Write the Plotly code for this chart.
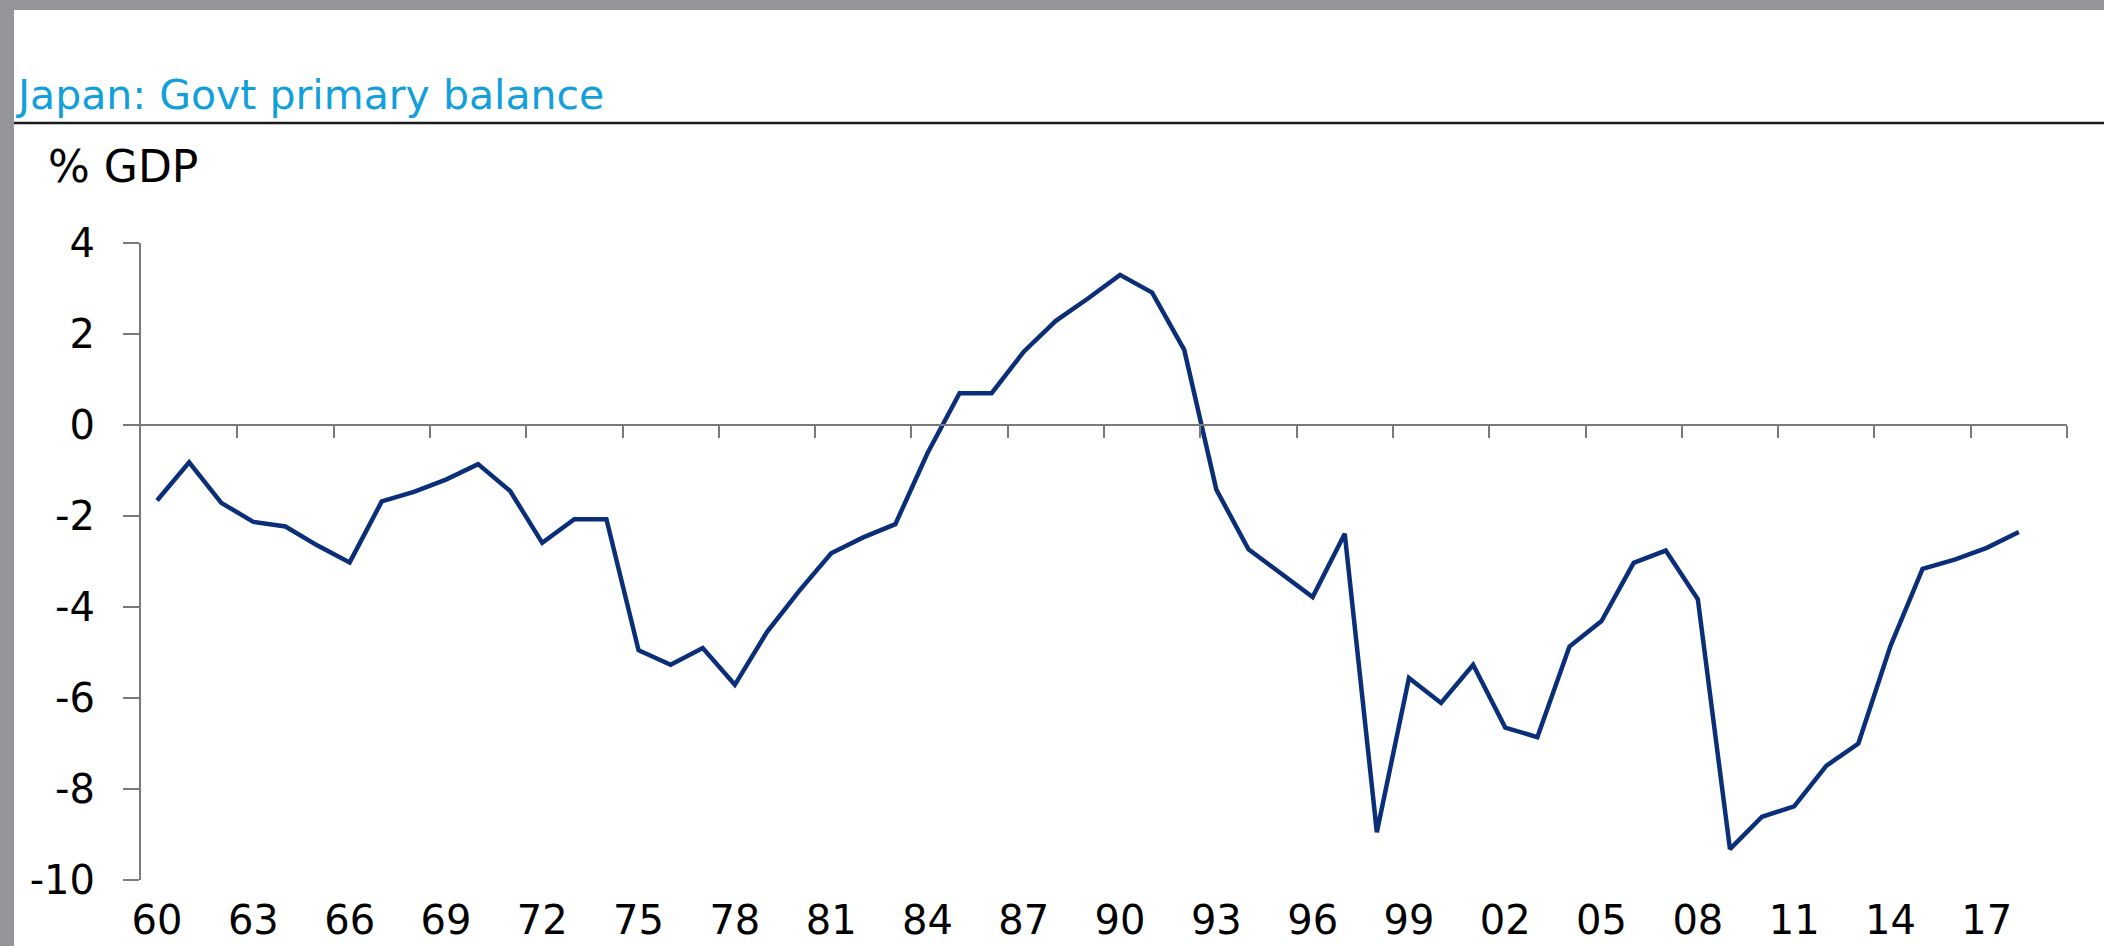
import plotly.graph_objects as go

# ---------------- data ----------------
years = list(range(1960, 2019))
balance = [
    -1.66, -0.82, -1.71, -2.13, -2.23, -2.65, -3.02, -1.68, -1.47, -1.20,
    -0.86, -1.45, -2.59, -2.07, -2.07, -4.95, -5.27, -4.90, -5.71, -4.55,
    -3.65, -2.82, -2.47, -2.18, -0.62, 0.70, 0.70, 1.61, 2.29, 2.78,
    3.30, 2.91, 1.65, -1.42, -2.73, -3.26, -3.78, -2.39, -8.95, -5.56,
    -6.11, -5.27, -6.65, -6.86, -4.87, -4.31, -3.03, -2.76, -3.83, -9.32,
    -8.61, -8.38, -7.49, -7.00, -4.86, -3.16, -2.96, -2.70, -2.35,
]
x_tick_years = list(range(1960, 2018, 3))
x_tick_labels = ["60", "63", "66", "69", "72", "75", "78", "81", "84", "87",
                 "90", "93", "96", "99", "02", "05", "08", "11", "14", "17"]
y_tick_values = [4, 2, 0, -2, -4, -6, -8, -10]
y_tick_labels = ["4", "2", "0", "-2", "-4", "-6", "-8", "-10"]
title_text = "Japan: Govt primary balance"
unit_text = "% GDP"

# ---------------- layout geometry (pixels) ----------------
W, H = 2104, 946
ML, MR, MT, MB = 141, 37, 243, 66
PW = W - ML - MR
PH = H - MT - MB

def px_x(px):
    return (px - ML) / PW

def px_y(py):
    return (H - MB - py) / PH

XMIN, XMAX = 1959.5, 2019.5
YMIN, YMAX = -10, 4
boundary_ticks = [1962.5 + 3 * k for k in range(20)]

AXIS_GREY = "#7a7a7a"
LINE_BLUE = "#0a2f78"
TITLE_BLUE = "#139fdc"
BORDER_GREY = "#939598"
FONT = "DejaVu Sans"

fig = go.Figure()
fig.add_trace(go.Scatter(
    x=years, y=balance, mode="lines",
    line=dict(color=LINE_BLUE, width=4.5),
    xaxis="x", yaxis="y", showlegend=False, hoverinfo="x+y",
))
# invisible trace to activate the zero-line axis
fig.add_trace(go.Scatter(
    x=[XMIN, XMAX], y=[0, 0], mode="lines", line=dict(width=0),
    xaxis="x2", yaxis="y", showlegend=False, hoverinfo="skip",
))

fig.update_layout(
    template="none",
    width=W, height=H, autosize=False,
    margin=dict(l=ML, r=MR, t=MT, b=MB, pad=0, autoexpand=False),
    paper_bgcolor="white", plot_bgcolor="white",
    font=dict(family=FONT, color="black"),
    xaxis=dict(
        range=[XMIN, XMAX], domain=[0, 1], automargin=False,
        tickvals=x_tick_years, ticktext=x_tick_labels,
        ticks="", showline=False, showgrid=False, zeroline=False,
        tickfont=dict(size=40, family=FONT, color="black"),
        ticklabelstandoff=13,
    ),
    xaxis2=dict(
        range=[XMIN, XMAX], overlaying="x", anchor="free", automargin=False,
        position=(0 - YMIN) / (YMAX - YMIN),
        tickvals=boundary_ticks, ticks="outside", ticklen=12, tickwidth=2,
        tickcolor=AXIS_GREY, showline=True, linecolor=AXIS_GREY, linewidth=2,
        showticklabels=False, showgrid=False, zeroline=False,
    ),
    yaxis=dict(
        range=[YMIN, YMAX], domain=[0, 1], automargin=False,
        tickvals=y_tick_values, ticktext=y_tick_labels,
        ticks="outside", ticklen=16, tickwidth=2, tickcolor=AXIS_GREY,
        showline=True, linecolor=AXIS_GREY, linewidth=2,
        showgrid=False, zeroline=False,
        tickfont=dict(size=40, family=FONT, color="black"),
        ticklabelstandoff=20,
    ),
    shapes=[
        # grey frame top and left
        dict(type="rect", xref="paper", yref="paper",
             x0=px_x(0), x1=px_x(W), y0=px_y(10), y1=px_y(0),
             fillcolor=BORDER_GREY, line=dict(width=0), layer="above"),
        dict(type="rect", xref="paper", yref="paper",
             x0=px_x(0), x1=px_x(14), y0=px_y(H), y1=px_y(0),
             fillcolor=BORDER_GREY, line=dict(width=0), layer="above"),
        # rule under title
        dict(type="line", xref="paper", yref="paper",
             x0=px_x(14), x1=px_x(W), y0=px_y(123), y1=px_y(123),
             line=dict(color="#1a1a1a", width=2.5)),
    ],
    annotations=[
        dict(text=title_text, xref="paper", yref="paper",
             x=px_x(13), y=px_y(95), xanchor="left", yanchor="middle",
             showarrow=False, font=dict(size=41, color=TITLE_BLUE, family=FONT)),
        dict(text=unit_text, xref="paper", yref="paper",
             x=px_x(46), y=px_y(166), xanchor="left", yanchor="middle",
             showarrow=False, font=dict(size=44, color="black", family=FONT)),
    ],
)

fig.write_html("out.html")
